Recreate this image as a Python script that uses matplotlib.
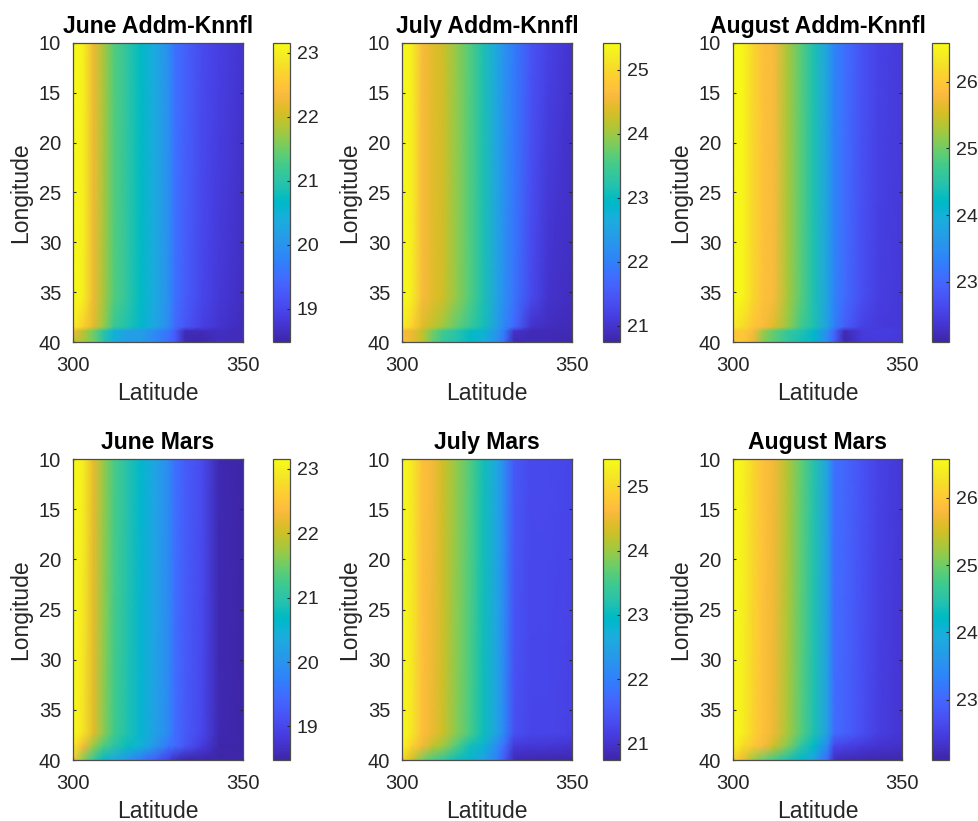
import matplotlib
matplotlib.use('Agg')
import matplotlib.pyplot as plt
from matplotlib.colors import LinearSegmentedColormap

plt.rcParams['font.family'] = ['Liberation Sans', 'DejaVu Sans']

W, H = 979, 821

# parula, 64 steps
parula_colors = [
    (0.2422, 0.1504, 0.6603), (0.2504, 0.1650, 0.7076), (0.2578, 0.1818, 0.7511), (0.2647, 0.1978, 0.7952),
    (0.2706, 0.2147, 0.8364), (0.2751, 0.2342, 0.8710), (0.2783, 0.2559, 0.8991), (0.2803, 0.2782, 0.9221),
    (0.2813, 0.3006, 0.9414), (0.2810, 0.3228, 0.9579), (0.2795, 0.3447, 0.9717), (0.2760, 0.3667, 0.9829),
    (0.2699, 0.3892, 0.9906), (0.2602, 0.4123, 0.9952), (0.2440, 0.4358, 0.9988), (0.2206, 0.4603, 0.9973),
    (0.1963, 0.4847, 0.9892), (0.1834, 0.5074, 0.9798), (0.1786, 0.5289, 0.9682), (0.1764, 0.5499, 0.9520),
    (0.1687, 0.5703, 0.9359), (0.1540, 0.5902, 0.9218), (0.1460, 0.6091, 0.9079), (0.1380, 0.6276, 0.8973),
    (0.1248, 0.6459, 0.8883), (0.1113, 0.6635, 0.8763), (0.0952, 0.6798, 0.8598), (0.0689, 0.6948, 0.8394),
    (0.0297, 0.7082, 0.8163), (0.0036, 0.7203, 0.7917), (0.0067, 0.7312, 0.7660), (0.0433, 0.7411, 0.7394),
    (0.0964, 0.7500, 0.7120), (0.1408, 0.7584, 0.6842), (0.1717, 0.7670, 0.6554), (0.1938, 0.7758, 0.6251),
    (0.2161, 0.7843, 0.5923), (0.2470, 0.7918, 0.5567), (0.2906, 0.7973, 0.5188), (0.3406, 0.8008, 0.4789),
    (0.3909, 0.8029, 0.4354), (0.4456, 0.8024, 0.3909), (0.5044, 0.7993, 0.3480), (0.5616, 0.7942, 0.3045),
    (0.6174, 0.7876, 0.2612), (0.6720, 0.7793, 0.2227), (0.7242, 0.7698, 0.1910), (0.7738, 0.7598, 0.1646),
    (0.8203, 0.7498, 0.1535), (0.8634, 0.7406, 0.1596), (0.9035, 0.7330, 0.1774), (0.9393, 0.7288, 0.2100),
    (0.9728, 0.7298, 0.2394), (0.9956, 0.7434, 0.2371), (0.9970, 0.7659, 0.2199), (0.9952, 0.7893, 0.2028),
    (0.9892, 0.8136, 0.1885), (0.9786, 0.8386, 0.1766), (0.9676, 0.8639, 0.1643), (0.9610, 0.8890, 0.1537),
    (0.9597, 0.9135, 0.1423), (0.9628, 0.9373, 0.1265), (0.9691, 0.9606, 0.1064), (0.9769, 0.9839, 0.0805),
]
parula = LinearSegmentedColormap.from_list('parula', parula_colors, N=256)

lat = [300, 303, 306, 309, 312, 316, 320, 324, 328, 330, 333, 338, 343, 350]
lon_addm = [10, 35.5, 38.5, 38.9, 40]
lon_mars = [10, 37.3, 38.6, 40]

june_addm = [
    [23.15, 23.02, 22.25, 21.8, 21.35, 21.05, 20.7, 20.35, 19.95, 19.55, 19.35, 19.05, 18.9, 18.75],
    [23.15, 23.0, 22.25, 21.8, 21.35, 21.05, 20.7, 20.35, 19.95, 19.55, 19.3, 19.0, 18.8, 18.65],
    [23.0, 22.6, 22.15, 21.7, 21.15, 20.9, 20.6, 20.3, 19.9, 19.45, 19.2, 18.9, 18.75, 18.6],
    [22.3, 21.9, 21.5, 21.0, 20.5, 20.2, 20.15, 19.9, 19.6, 19.3, 18.6, 18.6, 18.65, 18.6],
    [22.0, 21.8, 21.5, 20.95, 20.4, 20.15, 20.1, 19.85, 19.5, 19.25, 18.55, 18.5, 18.65, 18.6],
]
july_addm = [
    [25.42, 25.25, 24.6, 24.42, 24.3, 23.95, 23.6, 23.15, 22.55, 22.25, 21.95, 21.45, 21.2, 21.0],
    [25.42, 25.22, 24.6, 24.42, 24.3, 23.95, 23.6, 23.15, 22.5, 22.2, 21.85, 21.3, 21.0, 20.9],
    [25.3, 24.9, 24.4, 24.2, 24.0, 23.7, 23.4, 23.1, 22.4, 22.1, 21.7, 21.0, 20.9, 20.85],
    [24.6, 24.5, 24.2, 23.8, 23.5, 23.25, 23.0, 22.8, 22.3, 22.0, 21.0, 20.85, 20.85, 20.85],
    [24.7, 24.5, 24.2, 23.7, 23.4, 23.2, 22.95, 22.7, 22.2, 21.8, 20.85, 20.85, 20.85, 20.8],
]
august_addm = [
    [26.58, 26.5, 26.15, 25.9, 25.8, 25.3, 24.9, 24.4, 23.75, 23.35, 23.1, 22.75, 22.55, 22.45],
    [26.58, 26.48, 26.15, 25.9, 25.8, 25.3, 24.9, 24.4, 23.75, 23.35, 23.05, 22.7, 22.5, 22.4],
    [26.4, 26.2, 25.95, 25.8, 25.6, 25.2, 24.75, 24.4, 23.7, 23.3, 22.9, 22.55, 22.45, 22.4],
    [25.95, 26.0, 25.8, 25.2, 24.95, 24.65, 24.45, 24.15, 23.45, 23.0, 22.2, 22.45, 22.5, 22.45],
    [26.0, 25.95, 25.7, 25.1, 24.9, 24.6, 24.35, 24.1, 23.4, 22.9, 22.15, 22.4, 22.45, 22.4],
]
june_mars = [
    [23.15, 22.98, 22.2, 21.7, 21.3, 20.95, 20.6, 20.25, 19.9, 19.55, 19.3, 19.05, 18.55, 18.48],
    [23.15, 22.85, 22.15, 21.65, 21.25, 20.9, 20.55, 20.2, 19.85, 19.5, 19.25, 19.0, 18.55, 18.48],
    [22.95, 22.3, 21.7, 21.3, 21.0, 20.75, 20.5, 20.05, 19.6, 19.45, 19.2, 18.85, 18.5, 18.48],
    [22.5, 21.6, 21.1, 20.6, 20.35, 20.0, 19.6, 19.3, 18.9, 18.65, 18.48, 18.48, 18.48, 18.48],
]
july_mars = [
    [25.42, 25.2, 24.7, 24.55, 24.3, 23.95, 23.6, 23.1, 22.55, 22.15, 21.5, 21.3, 21.3, 21.25],
    [25.4, 25.15, 24.68, 24.5, 24.28, 23.9, 23.55, 23.05, 22.5, 22.1, 21.4, 21.25, 21.25, 21.2],
    [25.35, 24.9, 24.55, 24.2, 24.0, 23.6, 23.1, 22.8, 22.15, 21.8, 21.1, 21.05, 21.05, 21.0],
    [24.9, 24.3, 23.8, 23.55, 23.35, 23.05, 22.85, 22.45, 22.0, 21.5, 20.85, 20.82, 20.8, 20.8],
]
august_mars = [
    [26.58, 26.45, 26.15, 25.9, 25.75, 25.35, 24.95, 24.45, 23.75, 23.1, 23.0, 22.75, 22.55, 22.4],
    [26.55, 26.42, 26.12, 25.88, 25.72, 25.3, 24.9, 24.4, 23.7, 23.05, 22.95, 22.7, 22.5, 22.38],
    [26.5, 26.2, 26.0, 25.8, 25.5, 25.1, 24.6, 24.2, 23.4, 22.6, 22.55, 22.45, 22.35, 22.3],
    [26.1, 25.7, 25.2, 24.95, 24.75, 24.4, 24.15, 23.75, 23.0, 22.25, 22.18, 22.18, 22.15, 22.15],
]

titles = ['June Addm-Knnfl', 'July Addm-Knnfl', 'August Addm-Knnfl',
          'June Mars', 'July Mars', 'August Mars']
grids = [june_addm, july_addm, august_addm, june_mars, july_mars, august_mars]
lons = [lon_addm, lon_addm, lon_addm, lon_mars, lon_mars, lon_mars]
limits = [(18.48, 23.15), (20.75, 25.42), (22.1, 26.58)] * 2
cbar_ticks = [[19, 20, 21, 22, 23], [21, 22, 23, 24, 25], [23, 24, 25, 26]] * 2
lat_ticks = [300, 350]
lon_ticks = [10, 15, 20, 25, 30, 35, 40]

# left/right of each axes and colorbar, top/bottom of each row, in pixels
ax_x = [(73, 243), (402, 572), (733, 902)]
cb_x = [(273, 290), (603, 620), (932, 949)]
row_y = [(43, 342), (459, 760)]

dark = '#262626'
fig = plt.figure(figsize=(W / 100, H / 100), dpi=100)

for i in range(6):
    col = i % 3
    row = i // 3
    x0, x1 = ax_x[col]
    c0, c1 = cb_x[col]
    y0, y1 = row_y[row]
    ax = fig.add_axes([x0 / W, 1 - y1 / H, (x1 - x0) / W, (y1 - y0) / H])
    cax = fig.add_axes([c0 / W, 1 - y1 / H, (c1 - c0) / W, (y1 - y0) / H])

    vmin, vmax = limits[i]
    mesh = ax.pcolormesh(lat, lons[i], grids[i], shading='gouraud', cmap=parula,
                         vmin=vmin, vmax=vmax)
    ax.set_xlim(300, 350)
    ax.set_ylim(40, 10)
    ax.set_xticks(lat_ticks)
    ax.set_yticks(lon_ticks)
    ax.tick_params(direction='in', top=True, right=True, length=2.2, width=0.8,
                   labelsize=14.5, colors=dark)
    ax.tick_params(axis='x', pad=10)
    ax.tick_params(axis='y', pad=8.5)
    ax.set_xlabel('Latitude', fontsize=16.5, color=dark, labelpad=5)
    ax.set_ylabel('Longitude', fontsize=16.5, color=dark, labelpad=5)
    ax.set_title(titles[i], fontsize=16.6, fontweight='bold', color='black', pad=7)
    for s in ax.spines.values():
        s.set_color('#4d4d4d')
        s.set_linewidth(0.9)

    cb = fig.colorbar(mesh, cax=cax)
    cb.set_ticks(cbar_ticks[i])
    cb.ax.tick_params(direction='in', length=2.2, width=0.8, labelsize=14, colors=dark, pad=5)
    cb.outline.set_edgecolor('#4d4d4d')
    cb.outline.set_linewidth(0.9)

fig.savefig('out.png', dpi=100)
